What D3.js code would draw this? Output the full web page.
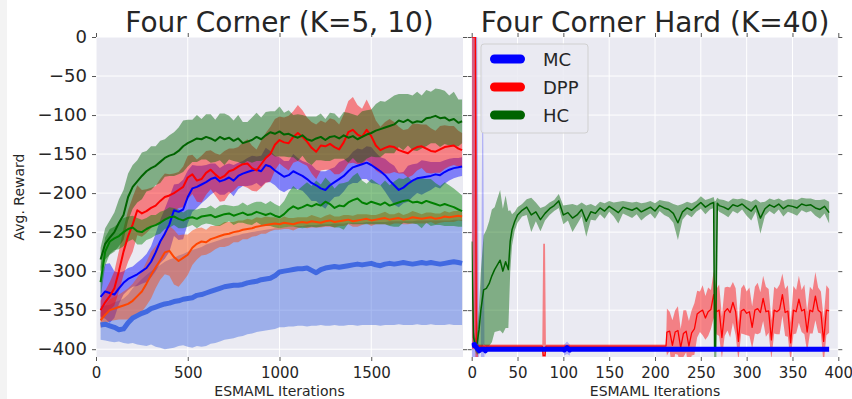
<!DOCTYPE html>
<html lang="en">
<head>
<meta charset="UTF-8">
<title>Four Corner</title>
<script src="https://cdn.jsdelivr.net/npm/d3@7"></script>
<style>
  body { margin: 0; background: #fff; }
  text { font-family: "DejaVu Sans", sans-serif; fill: #262626; }
</style>
</head>
<body>
<svg id="chart" width="852" height="399"></svg>
<script>
// ---- data ----
var methods = ["MC", "DPP", "HC"];
var methodColors = ["#0000ff", "#ff0000", "#006400"];
var yTicks = [-400, -350, -300, -250, -200, -150, -100, -50, 0];
var leftTicks = [0, 500, 1000, 1500];
var rightTicks = [0, 50, 100, 150, 200, 250, 300, 350, 400];

// left panel, sampled every 25 iterations
var leftIter = [25,50,75,100,125,150,175,200,225,250,
  275,300,325,350,375,400,425,450,475,500,
  525,550,575,600,625,650,675,700,725,750,
  775,800,825,850,875,900,925,950,975,1000,
  1025,1050,1075,1100,1125,1150,1175,1200,1225,1250,
  1275,1300,1325,1350,1375,1400,1425,1450,1475,1500,
  1525,1550,1575,1600,1625,1650,1675,1700,1725,1750,
  1775,1800,1825,1850,1875,1900,1925,1950,1975,1995];

var hcA = [-285,-265,-257,-250,-238,-228,-205,-192,-185,-178,
  -172,-168,-165,-160,-155,-152,-150,-146,-140,-136,
  -133,-130,-131,-128,-130,-133,-128,-131,-129,-133,
  -130,-136,-134,-132,-128,-131,-126,-122,-124,-121,
  -125,-124,-127,-129,-126,-131,-133,-130,-128,-132,
  -128,-127,-130,-126,-129,-127,-131,-128,-125,-123,
  -120,-118,-116,-114,-112,-107,-109,-106,-110,-108,
  -109,-104,-103,-101,-104,-103,-107,-105,-110,-108];
var hcASpread = [15,20,22,25,30,32,30,28,27,30,
  26,28,25,27,24,26,28,30,33,30,
  27,30,26,29,31,27,30,33,28,26,
  30,27,25,29,31,28,30,27,29,32,
  28,30,27,30,26,29,31,28,30,27,
  31,29,26,30,32,28,30,33,31,30,
  34,36,33,35,37,34,36,33,35,38,
  34,36,33,35,37,34,32,35,30,28];

var hcB = [-314,-275,-262,-258,-255,-250,-246,-244,-249,-250,
  -246,-243,-241,-238,-234,-231,-230,-233,-235,-232,
  -231,-233,-230,-229,-228,-231,-229,-227,-226,-229,
  -227,-225,-228,-227,-224,-226,-228,-226,-229,-231,
  -227,-221,-217,-220,-218,-215,-217,-214,-216,-211,
  -214,-219,-216,-217,-212,-209,-207,-212,-214,-211,
  -213,-215,-212,-216,-214,-212,-210,-209,-212,-211,
  -213,-210,-212,-214,-216,-214,-216,-218,-221,-223];
var hcBSpread = [20,18,16,15,17,18,16,15,17,16,
  14,15,13,14,12,13,11,12,10,11,
  10,12,11,10,12,11,13,12,10,12,
  11,13,12,14,13,15,14,16,15,14,
  17,22,26,24,27,29,26,30,27,31,
  28,25,28,30,27,31,33,28,26,29,
  27,25,28,26,29,31,28,30,27,29,
  32,28,30,27,25,28,26,24,22,20];

var dppA = [-350,-340,-332,-322,-300,-275,-255,-240,-222,-226,
  -223,-219,-216,-210,-205,-203,-200,-196,-192,-180,
  -176,-184,-182,-174,-170,-176,-181,-178,-172,-170,
  -166,-163,-162,-168,-171,-163,-155,-150,-138,-132,
  -135,-136,-128,-123,-128,-134,-142,-147,-139,-140,
  -137,-141,-144,-135,-122,-119,-125,-128,-119,-127,
  -139,-145,-142,-140,-141,-145,-147,-149,-144,-141,
  -140,-143,-146,-147,-144,-141,-140,-139,-143,-145];
var dppASpread = [12,15,18,22,26,30,33,35,32,30,
  28,26,25,28,30,27,25,23,26,28,
  25,27,30,28,25,27,30,32,29,27,
  25,28,31,29,27,30,32,35,33,30,
  32,35,33,36,34,31,33,35,32,30,
  33,35,32,36,40,42,38,36,39,35,
  32,30,33,35,32,30,28,31,33,30,
  28,31,29,27,30,28,26,25,23,22];

var dppB = [-363,-356,-350,-348,-346,-344,-342,-338,-332,-326,
  -316,-305,-295,-286,-276,-274,-282,-287,-283,-279,
  -270,-265,-262,-263,-259,-257,-255,-253,-252,-250,
  -249,-247,-246,-245,-243,-242,-241,-240,-239,-240,
  -238,-239,-240,-238,-237,-238,-236,-237,-238,-236,
  -235,-237,-236,-235,-234,-236,-235,-234,-233,-235,
  -234,-233,-232,-234,-233,-232,-234,-233,-231,-232,
  -233,-232,-231,-233,-232,-230,-231,-230,-229,-230];
var dppBSpread = [10,12,14,15,16,18,20,22,24,26,
  28,30,27,25,28,32,35,33,30,26,
  22,20,18,16,17,15,14,16,15,13,
  14,12,13,11,12,10,11,9,8,7,
  8,7,8,7,6,7,8,7,6,7,
  8,7,6,7,6,7,8,7,6,7,
  6,7,8,7,6,7,6,7,8,7,
  6,7,6,7,6,7,6,7,6,6];

var mcA = [-333,-326,-328,-330,-322,-315,-310,-307,-304,-300,
  -296,-288,-276,-262,-252,-240,-222,-224,-221,-205,
  -194,-192,-189,-186,-182,-180,-185,-183,-180,-184,
  -178,-175,-173,-171,-170,-172,-164,-166,-171,-175,
  -179,-177,-172,-175,-178,-182,-187,-190,-194,-196,
  -190,-186,-182,-178,-172,-167,-165,-163,-161,-164,
  -168,-172,-177,-184,-190,-196,-193,-188,-184,-181,
  -180,-179,-178,-176,-177,-173,-170,-168,-167,-166];
var mcASpread = [25,35,38,30,20,15,14,13,15,16,
  18,20,24,28,32,35,33,36,38,34,
  30,27,24,22,20,18,17,19,18,20,
  17,16,18,19,17,20,22,20,19,21,
  20,18,22,20,19,21,23,20,22,24,
  21,19,22,20,18,20,22,19,21,23,
  20,18,21,23,25,22,20,23,21,19,
  22,20,18,16,17,15,14,13,12,12];

var mcB = [-369,-368,-370,-372,-375,-374,-366,-360,-357,-354,
  -352,-348,-346,-344,-342,-341,-339,-338,-336,-335,
  -334,-331,-330,-328,-326,-324,-322,-320,-319,-318,
  -318,-317,-315,-314,-313,-311,-310,-309,-306,-301,
  -300,-299,-298,-297,-297,-296,-299,-302,-298,-296,
  -295,-294,-295,-294,-293,-292,-291,-292,-291,-290,
  -292,-293,-291,-290,-291,-290,-289,-290,-291,-290,
  -289,-290,-289,-290,-291,-290,-289,-288,-289,-290];
var mcBLow = [-388,-389,-390,-391,-390,-392,-393,-392,-394,-395,
  -396,-394,-397,-398,-400,-399,-398,-396,-395,-397,
  -398,-396,-397,-396,-393,-392,-390,-388,-387,-386,
  -384,-383,-381,-380,-378,-377,-376,-375,-374,-372,
  -372,-371,-371,-370,-370,-371,-370,-370,-369,-370,
  -370,-369,-370,-370,-369,-369,-370,-369,-369,-369,
  -369,-370,-369,-369,-369,-368,-369,-369,-369,-368,
  -369,-369,-368,-369,-369,-369,-368,-369,-369,-369];
var mcBHigh = [-345,-344,-343,-340,-338,-335,-330,-322,-316,-310,
  -305,-300,-296,-292,-288,-285,-283,-280,-278,-275,
  -273,-271,-269,-266,-264,-262,-260,-258,-257,-255,
  -254,-252,-251,-250,-249,-248,-247,-246,-245,-245,
  -244,-243,-243,-242,-242,-241,-241,-241,-240,-240,
  -240,-239,-239,-239,-238,-238,-238,-238,-237,-237,
  -237,-237,-237,-236,-236,-236,-236,-236,-236,-235,
  -235,-235,-235,-235,-235,-235,-235,-234,-234,-234];

// right panel
var hcRightIter = [0,2,4,6,8,10,13,16,19,22,
  25,28,31,34,37,40,42,44,47,50,
  55,60,65,70,75,80,85,90,95,100,
  105,110,115,120,125,130,135,140,145,150,
  155,160,165,170,175,180,185,190,195,200,
  205,210,215,220,225,230,235,240,245,250,
  255,260,264,265,266,268,270,275,280,285,290,
  295,300,305,310,315,320,325,330,335,340,
  345,350,355,360,365,370,375,380,385,390];
var hcRight = [-262,-385,-395,-392,-375,-350,-324,-322,-316,-306,
  -298,-292,-286,-300,-288,-298,-262,-247,-236,-228,
  -222,-218,-228,-224,-234,-226,-220,-216,-210,-228,
  -225,-232,-228,-221,-236,-224,-226,-219,-223,-217,
  -221,-225,-218,-220,-222,-219,-224,-221,-218,-223,
  -216,-219,-221,-226,-238,-224,-219,-222,-217,-212,
  -218,-214,-212,-400,-400,-213,-216,-218,-221,-215,-217,
  -214,-219,-223,-216,-232,-220,-215,-218,-214,-220,
  -216,-217,-219,-214,-216,-215,-219,-221,-217,-225];
var hcRightSpread = [8,10,8,15,30,50,70,75,80,85,
  80,85,90,80,85,75,40,20,12,10,
  8,10,22,12,15,9,8,7,9,12,
  10,18,12,9,20,10,9,8,10,7,
  9,14,8,9,10,8,11,9,8,10,
  7,9,10,12,22,10,8,9,7,8,
  9,7,7,190,190,7,8,9,10,8,9,
  7,10,12,8,20,9,8,9,7,10,
  8,9,10,8,9,8,10,12,9,14];

var dppRightIter = [0,4,5,7,10,20,30,40,50,60,
  70,77,78,80,81,90,100,110,120,130,
  140,150,160,170,180,190,200,210,212,
  213,216,219,222,225,228,231,234,237,240,
  243,246,249,252,255,258,261,264,267,270,
  273,276,279,282,285,288,291,294,297,300,
  303,306,309,312,315,318,321,324,327,330,
  333,336,339,342,345,348,351,354,357,360,
  363,366,369,372,375,378,381,384,387,390];
var dppRight = [0,0,-399,-396,-396,-396,-396,-396,-396,-396,
  -396,-396,-408,-408,-396,-396,-396,-396,-396,-396,
  -396,-396,-396,-396,-396,-396,-396,-396,-396,
  -378,-377,-395,-378,-376,-398,-380,-377,-396,-379,
  -374,-355,-352,-350,-360,-352,-349,-330,-352,-350,
  -385,-352,-348,-353,-340,-352,-390,-351,-349,-354,
  -352,-372,-350,-348,-353,-335,-352,-351,-388,-350,
  -352,-349,-330,-353,-351,-392,-350,-352,-336,-351,
  -349,-378,-350,-352,-332,-350,-353,-390,-350,-351];
var dppRightSpread = [400,400,400,2,2,2,2,2,2,2,
  2,2,143,143,2,2,2,2,2,2,
  2,2,2,2,2,2,2,2,2,
  30,25,32,28,31,24,30,27,32,29,
  33,30,26,32,28,31,25,30,29,33,
  27,31,28,32,26,30,25,29,32,28,
  31,27,30,33,26,29,32,28,25,30,
  29,32,27,30,33,26,31,28,30,27,
  32,26,30,28,31,29,27,30,32,28];

var mcRightIter = [0,3,6,8,10,12,14,15,16,50,
  100,101,104,107,108,150,200,250,300,350,390];
var mcRight = [-396,-394,-399,-402,-400,-400,-400,-402,-400,-400,
  -400,-401,-398,-401,-400,-400,-400,-400,-400,-400,-400];
var mcRightSpread = [400,400,400,6,0,400,0,6,0,0,
  0,7,8,7,0,0,0,0,0,0,0];

// ---- helpers ----
function toRows(iter, mean, lo, hi) {
  var n = Math.min(iter.length, mean.length, lo.length, hi.length);
  return d3.range(n).map(function(i) { return {x: iter[i], m: mean[i], lo: lo[i], hi: hi[i]}; });
}
function spreadRows(iter, mean, spread) {
  return toRows(iter, mean,
    mean.map(function(v, i) { return v - spread[i]; }),
    mean.map(function(v, i) { return v + spread[i]; }));
}

var svg = d3.select("#chart");
var top0 = 37, bottom0 = 357;
var yScale = d3.scaleLinear().domain([-410, 0]).range([bottom0, top0]);
var xLeft = d3.scaleLinear().domain([0, 2000]).range([96, 463]);
var xRight = d3.scaleLinear().domain([0, 400]).range([471.7, 838.3]);

// faint strip on the far left edge
svg.append("rect").attr("x", 0).attr("y", 0).attr("width", 7).attr("height", 399).attr("fill", "#f3f3f3");

var defs = svg.append("defs");

function drawPanel(x, xTicks, series, clipId, withYLabels, title) {
  var x0 = x.range()[0], x1 = x.range()[1];
  var g = svg.append("g");

  g.append("rect").attr("x", x0).attr("y", top0)
    .attr("width", x1 - x0).attr("height", bottom0 - top0)
    .attr("fill", "#eaeaf2");

  g.selectAll(".hgrid").data(yTicks).join("line").attr("class", "hgrid")
    .attr("x1", x0).attr("x2", x1)
    .attr("y1", d => yScale(d)).attr("y2", d => yScale(d))
    .attr("stroke", "#fff").attr("stroke-width", 1);
  g.selectAll(".vgrid").data(xTicks).join("line").attr("class", "vgrid")
    .attr("x1", d => x(d)).attr("x2", d => x(d))
    .attr("y1", top0).attr("y2", bottom0)
    .attr("stroke", "#fff").attr("stroke-width", 1);

  defs.append("clipPath").attr("id", clipId).append("rect")
    .attr("x", x0).attr("y", top0).attr("width", x1 - x0).attr("height", bottom0 - top0);

  var area = d3.area().x(d => x(d.x)).y0(d => yScale(d.lo)).y1(d => yScale(d.hi));
  var line = d3.line().x(d => x(d.x)).y(d => yScale(d.m));

  var plot = g.append("g").attr("clip-path", "url(#" + clipId + ")");
  plot.selectAll(".band").data(series).join("path").attr("class", "band")
    .attr("d", d => area(d.rows))
    .attr("fill", d => d.color).attr("fill-opacity", d => d.bandAlpha || 0.45);
  plot.selectAll(".curve").data(series).join("path").attr("class", "curve")
    .attr("d", d => line(d.rows))
    .attr("fill", "none").attr("stroke", d => d.color)
    .attr("stroke-width", d => d.width).attr("stroke-linejoin", "round");

  // ticks on all four sides
  var ax = [
    g.append("g").attr("transform", "translate(" + x0 + ",0)")
      .call(d3.axisLeft(yScale).tickValues(yTicks).tickSize(4).tickPadding(5)
        .tickFormat(withYLabels ? d3.format("d") : "")),
    g.append("g").attr("transform", "translate(" + x1 + ",0)")
      .call(d3.axisRight(yScale).tickValues(yTicks).tickSize(4).tickFormat("")),
    g.append("g").attr("transform", "translate(0," + top0 + ")")
      .call(d3.axisTop(x).tickValues(xTicks).tickSize(4).tickFormat("")),
    g.append("g").attr("transform", "translate(0," + bottom0 + ")")
      .call(d3.axisBottom(x).tickValues(xTicks).tickSize(4).tickPadding(6).tickFormat(d3.format("d")))
  ];
  ax.forEach(function(a) { a.select(".domain").remove(); a.attr("color", "#555"); });
  ax[0].attr("font-size", 18);
  ax[3].attr("font-size", 15);

  g.append("text").attr("x", (x0 + x1) / 2).attr("y", 396)
    .attr("text-anchor", "middle").attr("font-size", 14).text("ESMAML Iterations");
  g.append("text").attr("x", (x0 + x1) / 2).attr("y", 32)
    .attr("text-anchor", "middle").attr("font-size", 28).text(title);
  return g;
}

var leftSeries = [
  {color: "#4169e1", width: 5, rows: toRows(leftIter, mcB, mcBLow, mcBHigh)},
  {color: "#0000ff", width: 2, rows: spreadRows(leftIter, mcA, mcASpread)},
  {color: "#ff4500", width: 2, rows: spreadRows(leftIter, dppB, dppBSpread)},
  {color: "#ff0000", width: 2, rows: spreadRows(leftIter, dppA, dppASpread)},
  {color: "#008000", width: 2, rows: spreadRows(leftIter, hcB, hcBSpread)},
  {color: "#006400", width: 2, rows: spreadRows(leftIter, hcA, hcASpread)}
];
var rightSeries = [
  {color: "#0000ff", width: 5, bandAlpha: 0.25, rows: spreadRows(mcRightIter, mcRight, mcRightSpread)},
  {color: "#ff0000", width: 1.3, rows: spreadRows(dppRightIter, dppRight, dppRightSpread)},
  {color: "#006400", width: 1.5, rows: spreadRows(hcRightIter, hcRight, hcRightSpread)}
];

drawPanel(xLeft, leftTicks, leftSeries, "clipL", true, "Four Corner (K=5, 10)");
var rightPanel = drawPanel(xRight, rightTicks, rightSeries, "clipR", false, "Four Corner Hard (K=40)");
// MC line sits on top of the DPP floor line
rightPanel.selectAll(".curve").filter((d, i) => i === 0).raise();
rightPanel.selectAll(".curve").filter((d, i) => i === 2).raise();

svg.append("text").attr("transform", "translate(23.5,197) rotate(-90)")
  .attr("text-anchor", "middle").attr("font-size", 14).text("Avg. Reward");

// legend
var lg = svg.append("g");
lg.append("rect").attr("x", 481).attr("y", 44).attr("width", 107).attr("height", 89).attr("rx", 3)
  .attr("fill", "#eaeaf2").attr("fill-opacity", 0.85).attr("stroke", "#d0d0d0");
var item = lg.selectAll(".item").data(methods).join("g").attr("class", "item")
  .attr("transform", (d, i) => "translate(0," + (59 + i * 28) + ")");
item.append("line").attr("x1", 494.5).attr("x2", 520.5)
  .attr("stroke", (d, i) => methodColors[i]).attr("stroke-width", 9).attr("stroke-linecap", "round");
item.append("text").attr("x", 543).attr("y", 7).attr("font-size", 18).text(d => d);
</script>
</body>
</html>
